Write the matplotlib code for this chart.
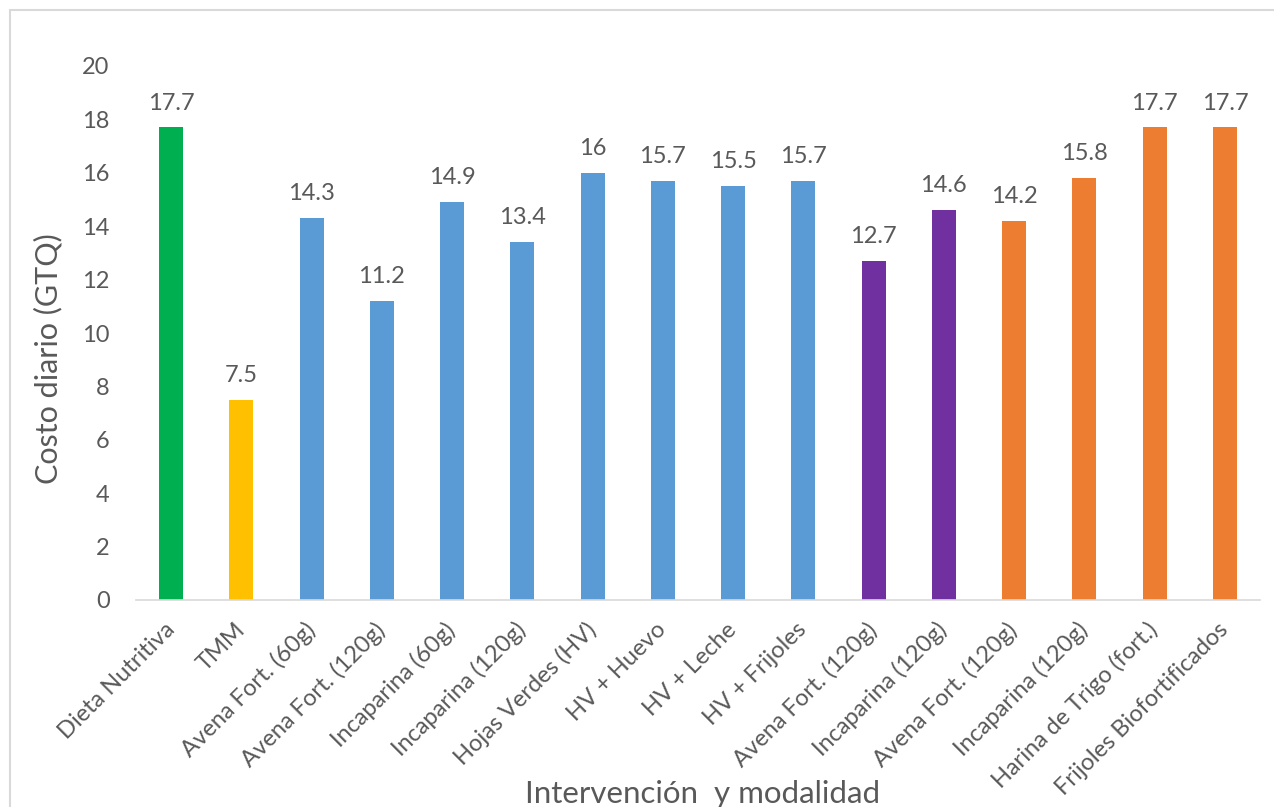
import matplotlib.pyplot as plt
from matplotlib.patches import Rectangle

categorias = ['Dieta Nutritiva', 'TMM', 'Avena Fort. (60g)', 'Avena Fort. (120g)',
              'Incaparina (60g)', 'Incaparina (120g)', 'Hojas Verdes (HV)',
              'HV + Huevo', 'HV + Leche', 'HV + Frijoles', 'Avena Fort. (120g)',
              'Incaparina (120g)', 'Avena Fort. (120g)', 'Incaparina (120g)',
              'Harina de Trigo (fort.)', 'Frijoles Biofortificados']
costos = [17.7, 7.5, 14.3, 11.2, 14.9, 13.4, 16, 15.7, 15.5, 15.7,
          12.7, 14.6, 14.2, 15.8, 17.7, 17.7]
etiquetas = ['17.7', '7.5', '14.3', '11.2', '14.9', '13.4', '16', '15.7', '15.5',
             '15.7', '12.7', '14.6', '14.2', '15.8', '17.7', '17.7']
colores = ['#00B050', '#FFC000'] + ['#5B9BD5'] * 8 + ['#7030A0'] * 2 + ['#ED7D31'] * 4

plt.rcParams['font.family'] = ['Lato', 'DejaVu Sans']
gris = '#595959'

fig = plt.figure(figsize=(12.74, 8.07), dpi=100)
ax = fig.add_axes([136 / 1274, 1 - 600 / 807, 1124 / 1274, 534 / 807])

x = list(range(len(categorias)))
ax.bar(x, costos, width=0.34, color=colores)
for xi, v, t in zip(x, costos, etiquetas):
    ax.annotate(t, (xi, v), xytext=(0, 10), textcoords='offset points',
                ha='center', va='bottom', fontsize=17, color=gris)

ax.set_xlim(-0.5, len(categorias) - 0.5)
ax.set_ylim(0, 20)
ax.set_yticks(range(0, 21, 2))
ax.set_xticks(x)
ax.set_xticklabels(categorias, rotation=45, ha='right', va='center',
                   rotation_mode='anchor', fontsize=17, color=gris)
ax.tick_params(axis='both', length=0, colors=gris, labelsize=17)
ax.tick_params(axis='y', pad=19)
ax.tick_params(axis='x', pad=19)
for s in ['top', 'right', 'left']:
    ax.spines[s].set_visible(False)
ax.spines['bottom'].set_color('#D9D9D9')
ax.spines['bottom'].set_linewidth(1.2)

ax.set_ylabel('Costo diario (GTQ)', fontsize=22, color=gris)
ax.yaxis.set_label_coords(-0.0658, 0.452)
fig.text(0.5 * (146 + 1260) / 1274, 1 - 794 / 807, 'Intervención  y modalidad',
         ha='center', va='center', fontsize=22.5, color=gris)

# marco del gráfico
fig.patches.append(Rectangle((10 / 1274, -0.1), 1.2, 1.1 - 10 / 807,
                             transform=fig.transFigure, fill=False,
                             edgecolor='#D9D9D9', linewidth=1.5))

fig.savefig('out.png', dpi=100)
